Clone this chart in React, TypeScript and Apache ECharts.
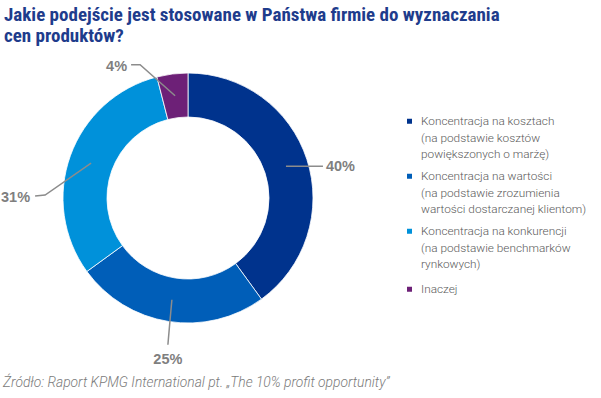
import React, { useEffect, useRef } from "react";
import * as echarts from "echarts";

const titleText = "Jakie podejście jest stosowane w Państwa firmie do wyznaczania\ncen produktów?";
const sourceText = "Źródło: Raport KPMG International pt. „The 10% profit opportunity”";
const categories = ["Koszty", "Wartość", "Konkurencja", "Inaczej"];
const legendLabels = [
  "Koncentracja na kosztach\n(na podstawie kosztów\npowiększonych o marżę)",
  "Koncentracja na wartości\n(na podstawie zrozumienia\nwartości dostarczanej klientom)",
  "Koncentracja na konkurencji\n(na podstawie benchmarków\nrynkowych)",
  "Inaczej",
];
const values = [40, 25, 31, 4];
const colors = ["#00338D", "#005EB8", "#0091DA", "#6D2077"];

const LH = 16.5;

// label-line routing offsets (relative to the library's start point on the ring)
const labelRoutes = [
  { bend: [2, 0], end: [37, 0], text: [3, 0], align: "left", vAlign: "middle" },
  { bend: [-2, 22], end: [-4, 45], text: [0, 7], align: "center", vAlign: "top" },
  { bend: [-46, 32], end: [-56, 33], text: [-5, 1], align: "right", vAlign: "middle" },
  { bend: [-35, -31], end: [-44, -31], text: [-4, 1], align: "right", vAlign: "middle" },
];

export default function App() {
  const ref = useRef<HTMLDivElement>(null);
  useEffect(() => {
    if (!ref.current) return;
    const chart = echarts.init(ref.current, null, { renderer: "svg" });
    const legendData = categories.map((name, i) => {
      const n = legendLabels[i].split("\n").length;
      const pad = n === 1 ? 3 : 0;
      return { name, textStyle: { padding: [pad, 0, pad, 3] } };
    });
    chart.setOption({
      animation: false,
      backgroundColor: "#ffffff",
      title: [
        {
          text: titleText,
          left: 4,
          top: 4,
          padding: 0,
          textStyle: {
            fontFamily: "'Liberation Sans Narrow', 'Roboto Condensed', 'Liberation Sans', sans-serif",
            fontSize: 19,
            fontWeight: "bold",
            color: "#1E3C8C",
            lineHeight: 21,
          },
        },
        {
          text: sourceText,
          left: 3,
          top: 375,
          padding: 0,
          textStyle: {
            fontFamily: "Roboto, 'Liberation Sans', sans-serif",
            fontSize: 13.8,
            fontWeight: 300,
            fontStyle: "italic",
            color: "#7a7a7a",
          },
        },
      ],
      legend: {
        orient: "vertical",
        left: 405,
        top: 80,
        padding: 0,
        itemWidth: 7,
        itemHeight: 7,
        itemGap: -27.5,
        icon: "rect",
        selectedMode: false,
        data: legendData,
        formatter: (name: string) => {
          const t = legendLabels[categories.indexOf(name)];
          const n = t.split("\n").length;
          const lead = n === 1 ? 2 : n - 1;
          const trail = n === 1 ? 2 : 0;
          return "\n".repeat(lead) + t + "\n".repeat(trail);
        },
        textStyle: {
          fontFamily: "Roboto, 'Liberation Sans', sans-serif",
          fontWeight: 300,
          fontSize: 11.8,
          lineHeight: LH,
          color: "#5a5a5a",
        },
      },
      series: [
        {
          type: "pie",
          center: [188, 198],
          radius: [81, 125],
          startAngle: 90,
          clockwise: true,
          label: { show: false },
          labelLine: { show: false },
          itemStyle: { borderColor: "#ffffff", borderWidth: 0.8 },
          emphasis: { disabled: true },
          data: categories.map((name, i) => ({
            name,
            value: values[i],
            itemStyle: { color: colors[i] },
          })),
        },
        {
          type: "pie",
          center: [188, 198],
          radius: [0, 103],
          startAngle: 90,
          clockwise: true,
          silent: true,
          z: 3,
          itemStyle: { color: "rgba(0,0,0,0)", borderWidth: 0 },
          emphasis: { disabled: true },
          label: {
            show: true,
            formatter: "{c}%",
            overflow: "none",
            fontFamily: "'Liberation Sans', Arial, sans-serif",
            fontSize: 14.5,
            fontWeight: "bold",
            color: "#7f7f7f",
          },
          labelLine: {
            show: true,
            length: 10,
            length2: 10,
            lineStyle: { color: "#8c8c8c", width: 1.5 },
          },
          labelLayout: (p: any) => {
            if (!p.labelLinePoints) return {};
            const r = labelRoutes[p.dataIndex];
            const s = p.labelLinePoints[0];
            const b = [s[0] + r.bend[0], s[1] + r.bend[1]];
            const e = [s[0] + r.end[0], s[1] + r.end[1]];
            return {
              x: e[0] + r.text[0],
              y: e[1] + r.text[1],
              align: r.align,
              verticalAlign: r.vAlign,
              labelLinePoints: [s, b, e],
            };
          },
          data: categories.map((name, i) => ({ name, value: values[i] })),
        },
      ],
    });
    return () => chart.dispose();
  }, []);
  return (
    <div
      ref={ref}
      style={{ position: "absolute", left: 0, top: 0, width: 601, height: 398 }}
    />
  );
}
